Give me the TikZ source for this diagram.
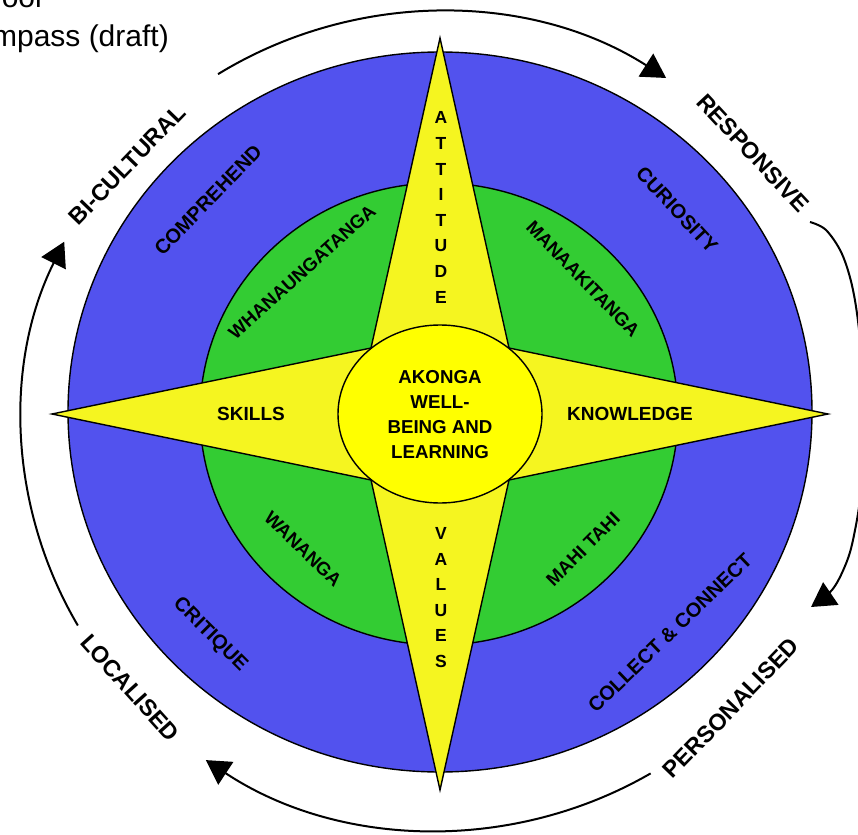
\documentclass[tikz,border=0pt]{standalone}
\usepackage{fontspec}
\setmainfont{Liberation Sans}
\usetikzlibrary{arrows.meta}
\definecolor{ringblue}{RGB}{82,82,238}
\definecolor{ringgreen}{RGB}{51,204,51}
\definecolor{staryellow}{RGB}{245,245,32}
\definecolor{coreyellow}{RGB}{255,255,0}
\begin{document}
\begin{tikzpicture}[x=1pt,y=1pt,
  shapeline/.style={draw=black, line width=1.4pt},
  cyclearc/.style={draw=black, line width=2pt, -{Triangle[length=24pt,width=27pt]}},
  outerlabel/.style={font=\fontsize{23.3}{27}\selectfont\bfseries, inner sep=0pt},
  ringlabel/.style={font=\fontsize{20}{24}\selectfont\bfseries, inner sep=0pt},
  greenlabel/.style={font=\fontsize{18.7}{22}\selectfont\bfseries, inner sep=0pt},
  armlabel/.style={font=\fontsize{19}{22}\selectfont\bfseries, inner sep=0pt},
  stacklabel/.style={font=\fontsize{17.5}{25.6}\selectfont\bfseries, align=center, inner sep=0pt},
  corelabel/.style={font=\fontsize{18.7}{25}\selectfont\bfseries, align=center, inner sep=0pt},
  titletext/.style={font=\fontsize{30}{35}\selectfont, inner sep=0pt}
]
\useasboundingbox (0,0) rectangle (858,-834);
\clip (0,0) rectangle (858,-834);
\fill[white] (0,0) rectangle (858,-834);

% rings
\draw[shapeline, fill=ringblue] (440,-412) ellipse[x radius=372pt, y radius=360pt];
\draw[shapeline, fill=ringgreen] (439,-414) ellipse[x radius=239pt, y radius=231pt];
% compass star
\draw[shapeline, fill=staryellow] (440,-38) -- (509,-348) -- (828,-414) -- (509,-480)
  -- (440,-790) -- (371,-480) -- (52,-414) -- (371,-348) -- cycle;
% core
\draw[shapeline, fill=coreyellow] (440,-414) ellipse[x radius=102pt, y radius=89pt];

% texts
\node[titletext, anchor=base east] (title1) at (42,-8) {ool};
\node[titletext, anchor=base east] (title2) at (169,-47) {mpass (draft)};

\node[corelabel] (core) at (440,-414.5) {AKONGA\\WELL-\\BEING AND\\LEARNING};
\node[stacklabel] (attitude) at (441,-207.5) {A\\T\\T\\I\\T\\U\\D\\E};
\node[stacklabel] (values) at (441,-597.5) {V\\A\\L\\U\\E\\S};
\node[armlabel] (skills) at (251,-414) {SKILLS};
\node[armlabel] (knowledge) at (630,-414) {KNOWLEDGE};

\node[greenlabel, rotate=42] (whanau) at (302,-272) {WHANAUNGATANGA};
\node[greenlabel, rotate=-46] (manaaki) at (583,-279) {MANAAKITANGA};
\node[greenlabel, rotate=-44] (wananga) at (303,-549) {WANANGA};
\node[greenlabel, rotate=45] (mahitahi) at (583,-549) {MAHI TAHI};

\node[ringlabel, rotate=46] (comprehend) at (208,-200) {COMPREHEND};
\node[ringlabel, rotate=-47] (curiosity) at (677,-210) {CURIOSITY};
\node[ringlabel, rotate=-45] (critique) at (210,-635) {CRITIQUE};
\node[ringlabel, rotate=44] (collect) at (670,-633) {COLLECT \& CONNECT};

\node[outerlabel, rotate=46] (bicultural) at (127,-165) {BI-CULTURAL};
\node[outerlabel, rotate=-47] (responsive) at (753,-153) {RESPONSIVE};
\node[outerlabel, rotate=46] (personalised) at (731,-708) {PERSONALISED};
\node[outerlabel, rotate=-48] (localised) at (130,-688) {LOCALISED};

% cycle arrows
\coordinate (topstart) at ([shift={(439,-421)}]122:417pt and 409pt);
\coordinate (bottomstart) at ([shift={(439,-421)}]300.5:417pt and 409pt);
\coordinate (leftstart) at ([shift={(439,-421)}]210:417pt and 409pt);
\draw[cyclearc] (topstart) arc[start angle=122, end angle=57, x radius=417pt, y radius=409pt];
\draw[cyclearc] (bottomstart) arc[start angle=300.5, end angle=236, x radius=417pt, y radius=409pt];
\draw[cyclearc] (leftstart) arc[start angle=210, end angle=154, x radius=417pt, y radius=409pt];
\draw[cyclearc] plot[smooth, tension=0.55] coordinates {(810,-222) (826,-230) (842,-254) (853,-290)
  (860,-340) (864,-414) (861,-490) (853,-540) (845,-566) (832,-590) (811,-607)};
\end{tikzpicture}
\end{document}
